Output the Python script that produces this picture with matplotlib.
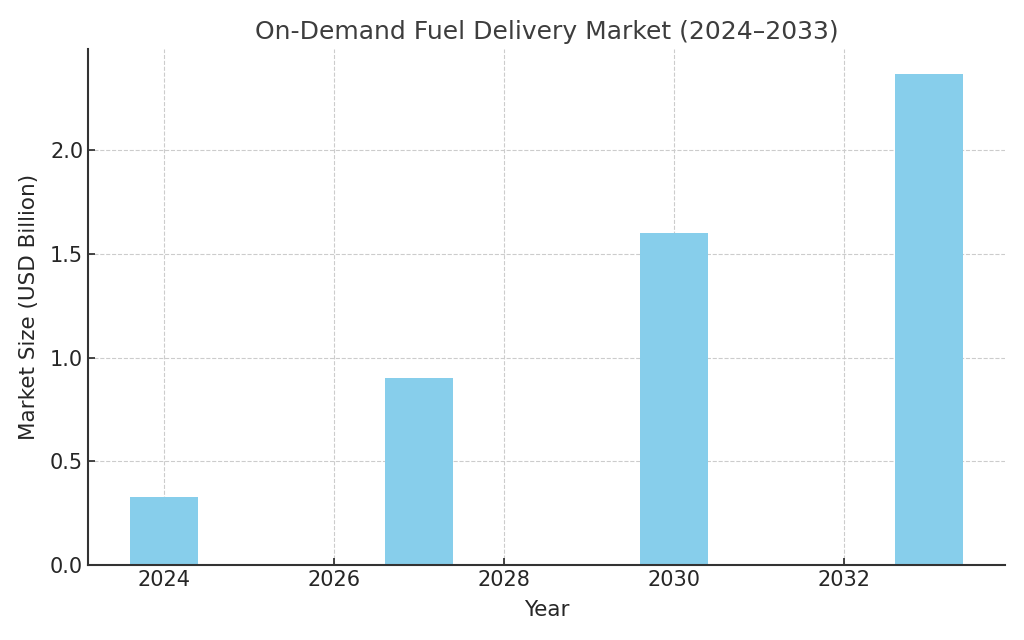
import matplotlib
matplotlib.use("Agg")
import matplotlib.pyplot as plt

years = [2024, 2027, 2030, 2033]
market_size = [0.33, 0.90, 1.60, 2.37]
title = "On-Demand Fuel Delivery Market (2024–2033)"
xlabel = "Year"
ylabel = "Market Size (USD Billion)"

plt.rcParams['font.family'] = ['DejaVu Sans']
fig = plt.figure(figsize=(10.24, 6.4), dpi=100)
ax = fig.add_axes([88/1024, 1 - 565/640, (1005-88)/1024, (565-49)/640])

ax.bar(years, market_size, width=0.8, color='#87CEEB', zorder=2)
ax.set_title(title, fontsize=18, color='#3d3d3d', pad=7)
ax.set_xlabel(xlabel, fontsize=15.5, color='#262626', labelpad=7)
ax.set_ylabel(ylabel, fontsize=15.5, color='#262626', labelpad=8)
ax.set_xticks([2024, 2026, 2028, 2030, 2032])
ax.set_yticks([0.0, 0.5, 1.0, 1.5, 2.0])
ax.tick_params(direction='in', labelsize=15, colors='#262626', length=5, width=1.2)
ax.grid(True, linestyle='--', color='#cccccc', linewidth=0.8, zorder=0)
ax.set_axisbelow(True)
for s in ['top', 'right']:
    ax.spines[s].set_visible(False)
for s in ['left', 'bottom']:
    ax.spines[s].set_color('#333333')
    ax.spines[s].set_linewidth(1.5)

fig.savefig("out.png", dpi=100)
